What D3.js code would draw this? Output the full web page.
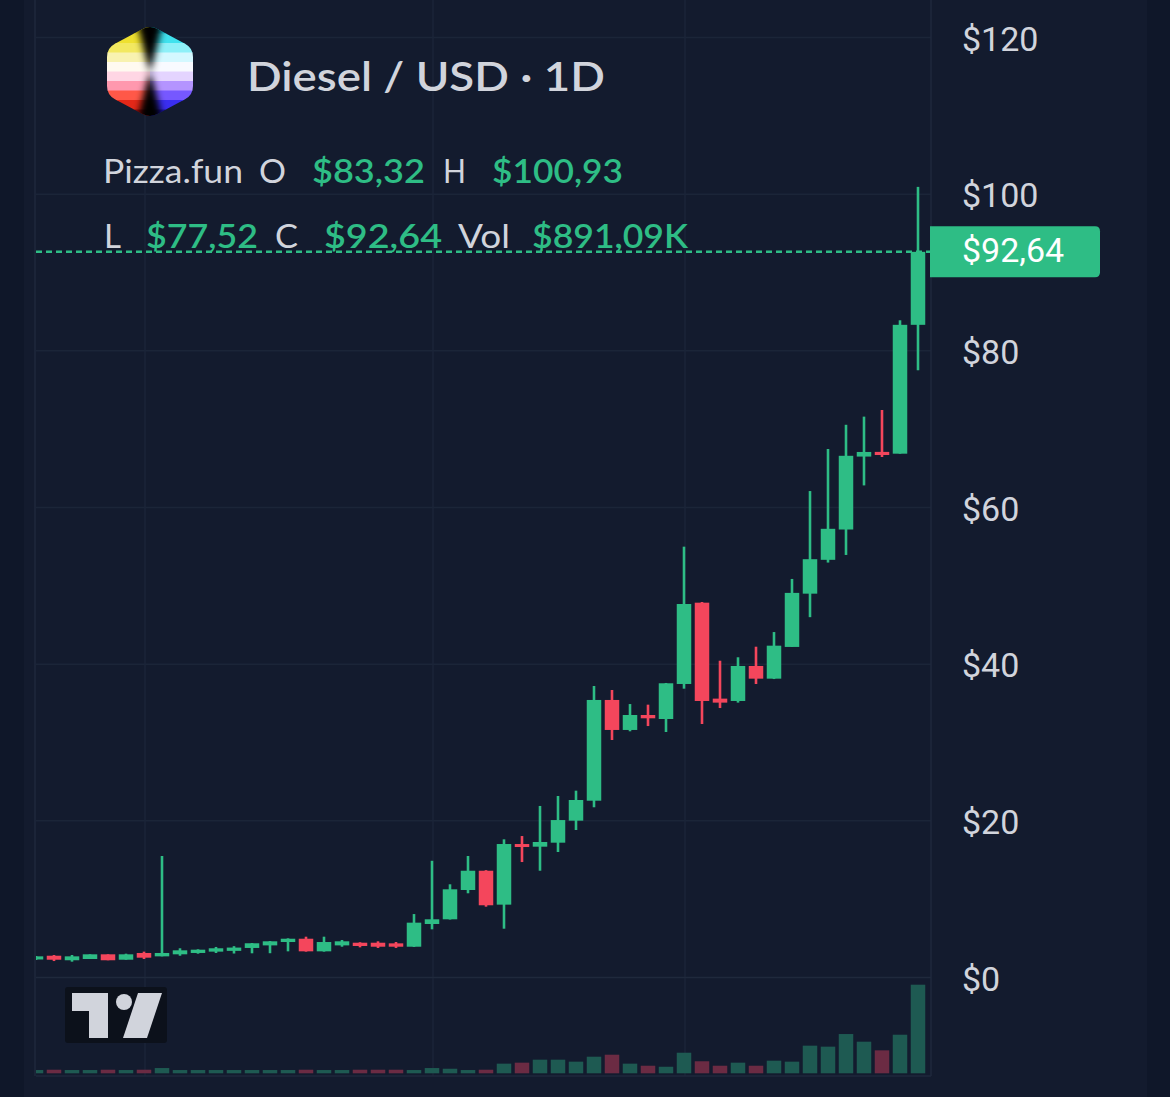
<!doctype html>
<html>
<head>
<meta charset="utf-8">
<title>Diesel / USD 1D</title>
<script src="https://d3js.org/d3.v7.min.js"></script>
<style>
  html, body { margin: 0; padding: 0; background: #0f1729; }
  svg { display: block; }
  .price-axis text { font-family: Roboto, "Noto Sans", sans-serif; font-size: 34px; fill: #d1d4dc; }
  .price-axis path, .price-axis line { display: none; }
  .hdr { font-family: Lato, "Open Sans", sans-serif; }
</style>
</head>
<body>
<script>

// candles, oldest first
var opens  = [2.30, 2.78, 2.20, 2.36, 2.96, 2.27, 3.13, 2.70, 2.96, 3.13,
              3.30, 3.40, 3.77, 4.10, 4.53, 4.95, 3.34, 4.10, 4.44, 4.44,
              4.36, 3.93, 6.83, 7.43, 11.17, 13.63, 9.30, 17.04, 16.70, 17.21,
              20.02, 22.57, 35.43, 31.60, 33.51, 33.00, 37.47, 47.85, 35.60, 35.30,
              39.77, 38.15, 42.20, 49.00, 53.32, 57.19, 66.50, 67.10, 66.87, 83.32];
var highs  = [2.75, 2.87, 2.87, 2.96, 2.96, 3.04, 3.30, 15.51, 3.73, 3.60,
              3.90, 4.00, 4.40, 4.66, 5.00, 5.21, 5.21, 4.79, 4.50, 4.62,
              4.53, 8.10, 14.90, 11.90, 15.51, 13.70, 17.64, 18.06, 21.90, 23.17,
              23.85, 37.21, 36.70, 34.91, 34.83, 37.60, 55.00, 47.94, 40.44, 40.88,
              42.23, 44.10, 50.88, 62.10, 67.47, 70.56, 71.60, 72.45, 83.90, 100.93];
var lows   = [2.25, 2.10, 2.02, 2.36, 2.20, 2.27, 2.36, 2.70, 2.78, 3.04,
              3.13, 3.06, 3.09, 3.10, 3.34, 3.30, 3.30, 3.93, 3.85, 3.77,
              3.77, 3.90, 6.15, 7.40, 10.75, 9.04, 6.23, 14.74, 13.63, 16.02,
              18.83, 21.73, 30.32, 31.43, 32.10, 31.34, 36.87, 32.36, 34.40, 35.09,
              37.47, 38.10, 42.20, 46.00, 52.97, 53.94, 62.82, 66.45, 66.87, 77.52];
var closes = [2.70, 2.27, 2.70, 2.96, 2.20, 2.96, 2.53, 3.13, 3.47, 3.55,
              3.73, 3.82, 4.37, 4.62, 4.95, 3.34, 4.53, 4.62, 4.02, 3.93,
              3.93, 7.00, 7.43, 11.26, 13.63, 9.22, 17.04, 16.70, 17.30, 20.10,
              22.66, 35.43, 31.60, 33.51, 33.09, 37.56, 47.68, 35.30, 35.09, 39.77,
              38.15, 42.36, 49.10, 53.40, 57.28, 66.60, 67.09, 66.70, 83.32, 92.64];
// volume in thousands of USD
var volumes = [33, 36, 33, 33, 36, 33, 36, 53, 33, 33,
               33, 33, 33, 33, 33, 36, 33, 33, 36, 36,
               36, 33, 53, 46, 33, 36, 97, 107, 137, 137,
               117, 167, 187, 97, 76, 66, 207, 121, 76, 107,
               76, 127, 117, 278, 268, 395, 318, 231, 388, 891.09];

var priceTicks = [0, 20, 40, 60, 80, 100, 120];
var timeGridIdx = [6, 22, 36];   // candles where the vertical grid lines sit
var titleText = "Diesel / USD \u00b7 1D";
var sourceText = "Pizza.fun";

var GREEN = "#2ebd85", RED = "#f4465c";
var VOL_GREEN = "#1e5a52", VOL_RED = "#6b2b43";

var W = 1170, H = 1097;
var left = 36, axisX = 931, paneBottom = 1076;

var svg = d3.select("body").append("svg")
    .attr("width", W)
    .attr("height", H);

// background: darker page strips + panel
svg.append("rect").attr("width", W).attr("height", H).attr("fill", "#0f1729");
svg.append("rect").attr("x", 24).attr("y", 0).attr("width", 1147 - 24).attr("height", H).attr("fill", "#131b2e");

var x = d3.scaleLinear().domain([0, opens.length - 1]).range([36, 918]);
var y = d3.scaleLinear().domain([0, 120]).range([977.5, 37.5]);
var yVol = d3.scaleLinear().domain([0, d3.max(volumes)]).range([1073.3, 984.7]);

var defs = svg.append("defs");
defs.append("clipPath").attr("id", "plot")
  .append("rect").attr("x", left).attr("y", 0).attr("width", axisX - left).attr("height", paneBottom);

// grid
var grid = svg.append("g").attr("stroke", "#1b2538").attr("stroke-width", 1.5);
grid.selectAll("line.h").data(priceTicks.filter(function(d) { return d > 0; }))
  .enter().append("line")
    .attr("x1", left).attr("x2", axisX)
    .attr("y1", function(d) { return y(d); })
    .attr("y2", function(d) { return y(d); });
grid.selectAll("line.v").data(timeGridIdx)
  .enter().append("line")
    .attr("x1", function(d) { return x(d) + 1; })
    .attr("x2", function(d) { return x(d) + 1; })
    .attr("y1", 0).attr("y2", paneBottom);

// pane borders
var borders = svg.append("g").attr("stroke", "#1f293c").attr("stroke-width", 1.5);
borders.append("line").attr("x1", 35).attr("x2", 35).attr("y1", 0).attr("y2", paneBottom);
borders.append("line").attr("x1", axisX).attr("x2", axisX).attr("y1", 0).attr("y2", paneBottom);
borders.append("line").attr("x1", left).attr("x2", axisX).attr("y1", y(0)).attr("y2", y(0));
borders.append("line").attr("x1", left).attr("x2", axisX).attr("y1", paneBottom).attr("y2", paneBottom);

var plot = svg.append("g").attr("clip-path", "url(#plot)");

var idx = d3.range(opens.length);
var bodyW = 14.5;
function up(i) { return closes[i] >= opens[i]; }

// volume bars
plot.append("g").selectAll("rect").data(idx).enter().append("rect")
    .attr("x", function(i) { return x(i) - bodyW / 2; })
    .attr("width", bodyW)
    .attr("y", function(i) { return yVol(volumes[i]); })
    .attr("height", function(i) { return yVol(0) - yVol(volumes[i]); })
    .attr("fill", function(i) { return up(i) ? VOL_GREEN : VOL_RED; });

// candles
var candle = plot.append("g").selectAll("g").data(idx).enter().append("g");
candle.append("line")
    .attr("x1", function(i) { return x(i); })
    .attr("x2", function(i) { return x(i); })
    .attr("y1", function(i) { return y(highs[i]); })
    .attr("y2", function(i) { return y(lows[i]); })
    .attr("stroke", function(i) { return up(i) ? GREEN : RED; })
    .attr("stroke-width", 2.6);
candle.append("rect")
    .attr("x", function(i) { return x(i) - bodyW / 2; })
    .attr("width", bodyW)
    .attr("y", function(i) { return y(Math.max(opens[i], closes[i])); })
    .attr("height", function(i) { return Math.max(3, Math.abs(y(opens[i]) - y(closes[i]))); })
    .attr("fill", function(i) { return up(i) ? GREEN : RED; });

// last price line
var last = opens.length - 1;
svg.append("line")
    .attr("x1", left).attr("x2", axisX)
    .attr("y1", y(closes[last])).attr("y2", y(closes[last]))
    .attr("stroke", GREEN).attr("stroke-width", 2.5)
    .attr("stroke-dasharray", "6,4");

// price axis
svg.append("g")
    .attr("class", "price-axis")
    .attr("transform", "translate(" + axisX + ",0)")
    .call(d3.axisRight(y).tickValues(priceTicks).tickSize(0).tickPadding(31)
          .tickFormat(function(d) { return "$" + d; }))
  .selectAll("text").attr("dy", "0.37em");

var fmt = function(v) { return "$" + d3.format(".2f")(v).replace(".", ","); };

// last price tag
var ly = y(closes[last]);
svg.append("path")
    .attr("d", "M930," + (ly - 25.5) + " H1095 Q1100," + (ly - 25.5) + " 1100," + (ly - 20.5) +
               " V" + (ly + 20.5) + " Q1100," + (ly + 25.5) + " 1095," + (ly + 25.5) + " H930 Z")
    .attr("fill", GREEN);
svg.append("text")
    .attr("x", 962).attr("y", ly + 10.5)
    .attr("font-family", "Roboto, sans-serif").attr("font-size", 34)
    .attr("fill", "#ffffff")
    .text(fmt(closes[last]));

// ---- header ----
function roundedPoly(pts, r) {
  var n = pts.length, d = "";
  for (var k = 0; k < n; k++) {
    var p = pts[k], a = pts[(k + n - 1) % n], b = pts[(k + 1) % n];
    var la = Math.hypot(a[0] - p[0], a[1] - p[1]), lb = Math.hypot(b[0] - p[0], b[1] - p[1]);
    var p1 = [p[0] + (a[0] - p[0]) * r / la, p[1] + (a[1] - p[1]) * r / la];
    var p2 = [p[0] + (b[0] - p[0]) * r / lb, p[1] + (b[1] - p[1]) * r / lb];
    d += (k === 0 ? "M" : "L") + p1[0] + "," + p1[1] + " Q" + p[0] + "," + p[1] + " " + p2[0] + "," + p2[1];
  }
  return d + "Z";
}
var hex = [[150, 25], [193, 48], [193, 95], [150, 118], [107, 95], [107, 48]];
defs.append("clipPath").attr("id", "hex").append("path").attr("d", roundedPoly(hex, 9));
defs.append("filter").attr("id", "soft").append("feGaussianBlur").attr("stdDeviation", 3.5);

var leftCols  = ["#e8d818", "#eee030", "#f2e860", "#f8f2b0", "#fffaf0", "#ffd6e4", "#ff98ae", "#ff5848", "#e42818", "#a00e0c"];
var rightCols = ["#18d0e4", "#40e2ee", "#8ef0f8", "#d4f8ff", "#f8faff", "#e4d4ff", "#b494ff", "#7658ff", "#3a2ef0", "#1c14b0"];
var icon = svg.append("g").attr("clip-path", "url(#hex)");
leftCols.forEach(function(c, k) {
  icon.append("rect").attr("x", 105).attr("y", 24 + k * 9.5).attr("width", 45).attr("height", 10).attr("fill", c);
  icon.append("rect").attr("x", 150).attr("y", 24 + k * 9.5).attr("width", 45).attr("height", 10).attr("fill", rightCols[k]);
});
icon.append("path")
    .attr("d", "M136,18 L164,18 L153,62 L150,72 L147,62 Z M136,125 L164,125 L153,82 L150,72 L147,82 Z")
    .attr("fill", "#050505").attr("filter", "url(#soft)");

svg.append("text").attr("class", "hdr")
    .attr("x", 247).attr("y", 90.5)
    .attr("font-size", 41).attr("font-weight", 600)
    .attr("fill", "#d1d4dc")
    .attr("textLength", 358).attr("lengthAdjust", "spacingAndGlyphs")
    .text(titleText);

// legend rows: [text, x, width, isValue]
var row1 = [[sourceText, 103, 140, false], ["O", 259, 27, false], [fmt(opens[last]), 312, 113, true],
            ["H", 443, 23, false], [fmt(highs[last]), 492, 131, true]];
var row2 = [["L", 104, 17, false], [fmt(lows[last]), 146, 112, true], ["C", 275, 23, false],
            [fmt(closes[last]), 324, 118, true], ["Vol", 458, 52, false],
            ["$" + d3.format(".2f")(volumes[last]).replace(".", ",") + "K", 532, 156, true]];

function legendRow(items, baseline) {
  svg.append("g").selectAll("text").data(items).enter().append("text")
      .attr("class", "hdr")
      .attr("x", function(d) { return d[1]; })
      .attr("y", baseline)
      .attr("font-size", 33)
      .attr("font-weight", function(d) { return d[3] ? 600 : 400; })
      .attr("fill", function(d) { return d[3] ? GREEN : "#d1d4dc"; })
      .attr("textLength", function(d) { return d[2]; })
      .attr("lengthAdjust", "spacingAndGlyphs")
      .text(function(d) { return d[0]; });
}
legendRow(row1, 182.5);
legendRow(row2, 248);

// TradingView mark
var tv = svg.append("g");
tv.append("rect").attr("x", 65).attr("y", 987).attr("width", 102).attr("height", 56).attr("rx", 3).attr("fill", "#0c111b");
tv.append("path").attr("d", "M72,993 H108 V1038 H89 V1011 H72 Z").attr("fill", "#d1d4dc");
tv.append("circle").attr("cx", 124).attr("cy", 1002).attr("r", 8).attr("fill", "#d1d4dc");
tv.append("path").attr("d", "M138,993 H162 L147,1038 H123 Z").attr("fill", "#d1d4dc");

</script>
</body>
</html>
